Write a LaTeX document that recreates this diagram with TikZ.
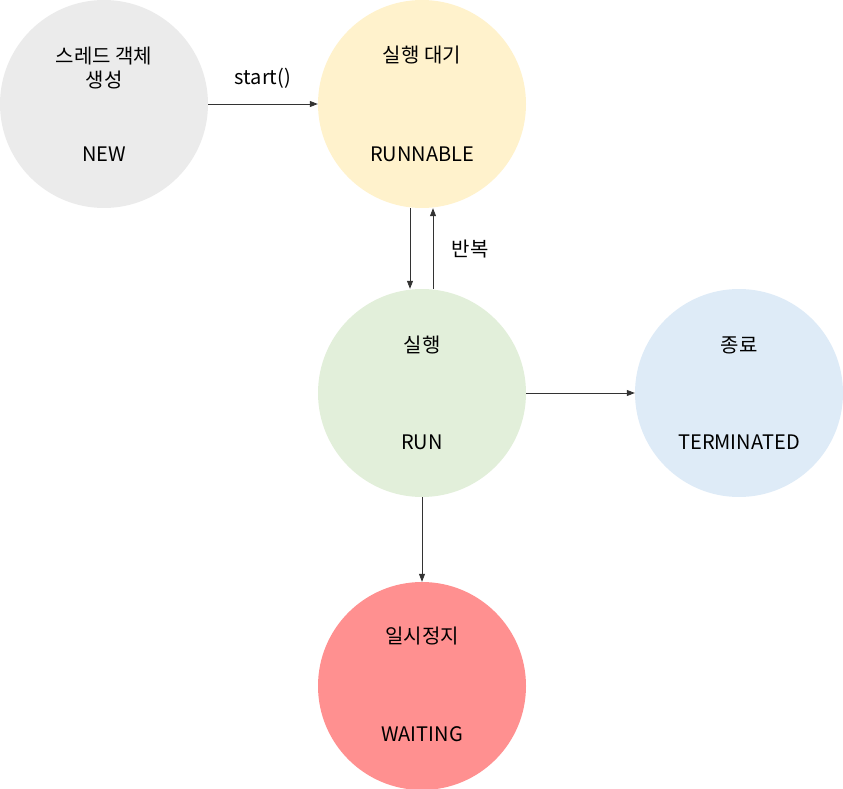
\documentclass[tikz,border=0pt]{standalone}
\usepackage{fontspec}
\setmainfont{Noto Sans CJK KR}
\usetikzlibrary{arrows.meta,positioning}
\definecolor{newgray}{HTML}{EBEBEB}
\definecolor{waityellow}{HTML}{FFF2CC}
\definecolor{rungreen}{HTML}{E2EFDA}
\definecolor{endblue}{HTML}{DEEBF7}
\definecolor{pausered}{HTML}{FF9090}
\definecolor{linegray}{HTML}{333333}

\begin{document}
\begin{tikzpicture}[x=1pt, y=-1pt,
    every node/.style={font=\fontsize{20}{24}\selectfont, text=black},
    state/.style={circle, minimum size=208pt, inner sep=0pt, draw=none},
    flow/.style={linegray, line width=0.8pt, -{Triangle[length=8pt,width=6pt]}}]
  \useasboundingbox (0,0) rectangle (843,789);
  % --- states ---
  \node[state, fill=newgray]    (new)      at (104,104) {};
  \node[state, fill=waityellow] (runnable) at (422,104) {};
  \node[state, fill=rungreen]   (run)      at (422,393) {};
  \node[state, fill=endblue]    (term)     at (739,393) {};
  \node[state, fill=pausered]   (waiting)  at (422,686) {};
  % --- titles and names ---
  \node[align=center] (newko) at ([yshift=36]new.center) {스레드 객체\\생성};
  \node (newen)  at ([yshift=-50]new.center) {NEW};
  \node (runnableko) at ([yshift=49]runnable.center) {실행 대기};
  \node (runnableen) at ([yshift=-50]runnable.center) {RUNNABLE};
  \node (runko)  at ([yshift=48]run.center) {실행};
  \node (runen)  at ([yshift=-49]run.center) {RUN};
  \node (termko) at ([yshift=48]term.center) {종료};
  \node (termen) at ([yshift=-49]term.center) {TERMINATED};
  \node (waitko) at ([yshift=50]waiting.center) {일시정지};
  \node (waiten) at ([yshift=-48]waiting.center) {WAITING};
  % --- transitions ---
  \draw[flow] (new.east) -- node[above=12pt] (startlbl) {start()} (runnable.west);
  \draw[flow] ([xshift=-12]runnable.south) -- ([xshift=-12]run.north);
  \draw[flow] ([xshift=11]run.north) -- ([xshift=11]runnable.south);
  \node (looplbl) at (470,249) {반복};
  \draw[flow] (run.east) -- (term.west);
  \draw[flow] (run.south) -- (waiting.north);
\end{tikzpicture}
\end{document}
